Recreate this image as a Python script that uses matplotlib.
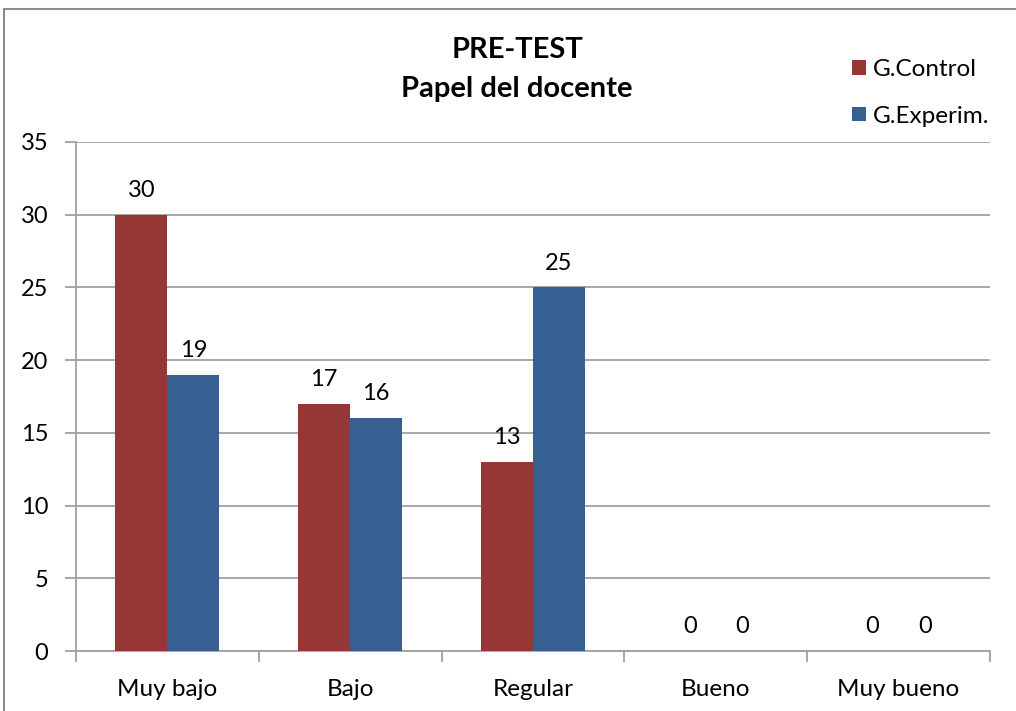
import numpy as np
import matplotlib.pyplot as plt
from matplotlib.lines import Line2D

categories = ['Muy bajo', 'Bajo', 'Regular', 'Bueno', 'Muy bueno']
control = [30, 17, 13, 0, 0]
experim = [19, 16, 25, 0, 0]
yticks = [0, 5, 10, 15, 20, 25, 30, 35]

plt.rcParams['font.family'] = ['Lato', 'DejaVu Sans']

fig = plt.figure(figsize=(10.16, 7.11), dpi=100)
ax = fig.add_axes([76/1016, 1-651/711, 914/1016, 509/711])

x = np.arange(len(categories))
w = 0.285
b1 = ax.bar(x - w/2, control, w, color='#953735', label='G.Control', zorder=3)
b2 = ax.bar(x + w/2, experim, w, color='#376092', label='G.Experim.', zorder=3)

# value labels above bars
for bars in (b1, b2):
    for rect in bars:
        h = rect.get_height()
        ax.annotate(str(int(h)), (rect.get_x() + rect.get_width()/2, h),
                    xytext=(0, 10), textcoords='offset points',
                    ha='center', va='bottom', fontsize=17)

ax.set_xlim(-0.5, len(categories) - 0.5)
ax.set_ylim(0, 35)
ax.set_yticks(yticks)
ax.grid(axis='y', color='#a0a0a0', linewidth=1.3, zorder=0)

# category ticks between groups, labels at centers
ax.set_xticks(np.arange(-0.5, len(categories)), minor=True)
ax.set_xticks(x)
ax.set_xticklabels(categories)
ax.tick_params(axis='x', which='major', length=0, pad=20, labelsize=17.5)
ax.tick_params(axis='x', which='minor', length=8, color='#a0a0a0', width=1.3)
ax.tick_params(axis='y', length=8, color='#a0a0a0', width=1.3, pad=12, labelsize=17)

for s in ('top', 'right'):
    ax.spines[s].set_visible(False)
for s in ('left', 'bottom'):
    ax.spines[s].set_color('#a0a0a0')
    ax.spines[s].set_linewidth(1.3)

fig.text(517/1016, 1-50/711, 'PRE-TEST', ha='center', va='center',
         fontsize=21, fontweight='bold')
fig.text(517/1016, 1-89/711, 'Papel del docente', ha='center', va='center',
         fontsize=21, fontweight='bold')

fig.legend(handles=[b1, b2], loc='upper left', bbox_to_anchor=(840/1016, 1-47/711),
           frameon=False, fontsize=17.5, handlelength=0.55, handleheight=0.55,
           handletextpad=0.3, labelspacing=1.05, borderpad=0)

# outer chart border
fig.add_artist(Line2D([4/1016, 1], [1-9/711, 1-9/711], color='#8c8c8c', linewidth=1.5))
fig.add_artist(Line2D([4/1016, 4/1016], [0, 1-9/711], color='#8c8c8c', linewidth=1.5))

fig.savefig('out.png', dpi=100)
